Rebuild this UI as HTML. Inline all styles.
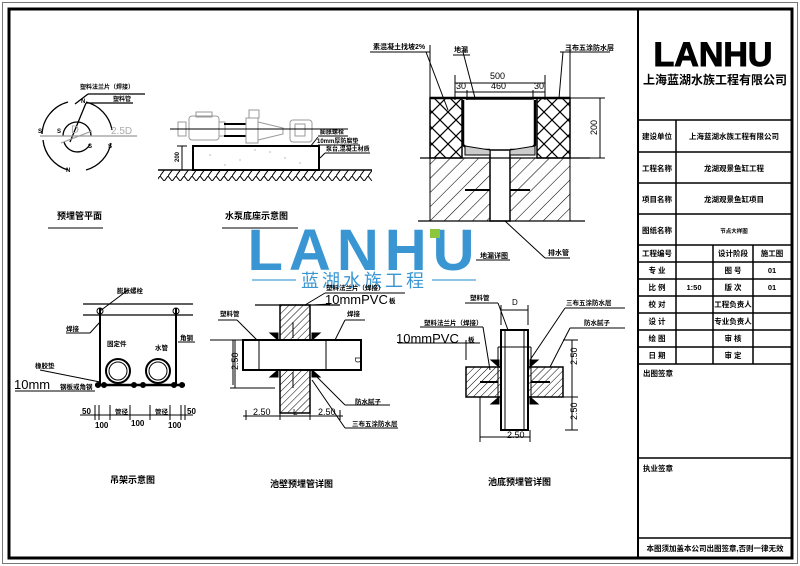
<!DOCTYPE html>
<html><head><meta charset="utf-8"><style>
html,body{margin:0;padding:0;background:#fff;}
svg{display:block;}
text{font-family:"Liberation Sans","Noto Sans CJK SC",sans-serif;font-weight:bold;fill:#000;}
</style></head><body>
<svg width="800" height="566" viewBox="0 0 800 566" xmlns="http://www.w3.org/2000/svg">
<defs>
<pattern id="xh" width="16" height="16" patternUnits="userSpaceOnUse">
<path d="M0 0L16 16M16 0L0 16" stroke="#000" stroke-width="1.2"/>
</pattern>
<pattern id="dg" width="10" height="10" patternUnits="userSpaceOnUse" patternTransform="rotate(45)">
<line x1="0" y1="0" x2="0" y2="10" stroke="#000" stroke-width="1.1"/>
</pattern>
<pattern id="dg2" width="5" height="5" patternUnits="userSpaceOnUse" patternTransform="rotate(45)">
<line x1="0" y1="0" x2="0" y2="5" stroke="#000" stroke-width="1"/>
</pattern>
<pattern id="gr" width="8" height="11" patternUnits="userSpaceOnUse">
<path d="M0 11L8 0M0 0L4 5" stroke="#000" stroke-width="1"/>
</pattern>
</defs>
<rect x="2.5" y="2.5" width="795" height="561" fill="none" stroke="#777" stroke-width="1"/>
<rect x="9" y="9" width="783" height="549" fill="none" stroke="#000" stroke-width="3"/>
<line x1="638" y1="9" x2="638" y2="558" stroke="#000" stroke-width="2"/>

<g stroke="#000" stroke-width="1.5" fill="none">
<line x1="638" y1="120" x2="792" y2="120"/>
<line x1="638" y1="152" x2="792" y2="152"/>
<line x1="638" y1="183" x2="792" y2="183"/>
<line x1="638" y1="214" x2="792" y2="214"/>
<line x1="638" y1="245" x2="792" y2="245"/>
<line x1="638" y1="262" x2="792" y2="262"/>
<line x1="638" y1="279" x2="792" y2="279"/>
<line x1="638" y1="296" x2="792" y2="296"/>
<line x1="638" y1="313" x2="792" y2="313"/>
<line x1="638" y1="330" x2="792" y2="330"/>
<line x1="638" y1="347" x2="792" y2="347"/>
<line x1="638" y1="364" x2="792" y2="364"/>
<line x1="638" y1="458" x2="792" y2="458"/>
<line x1="638" y1="538" x2="792" y2="538"/>
<line x1="676" y1="120" x2="676" y2="364"/>
<line x1="713" y1="245" x2="713" y2="364"/>
<line x1="753" y1="245" x2="753" y2="364"/>
</g>
<text x="713" y="66" font-size="34" text-anchor="middle" font-family="Liberation Sans" style="font-weight:900;stroke:#000;stroke-width:1">LANHU</text>
<text x="715" y="84" font-size="12" text-anchor="middle">上海蓝湖水族工程有限公司</text>
<g font-size="7.5">
<text x="657" y="139" text-anchor="middle">建设单位</text>
<text x="734" y="139" text-anchor="middle">上海蓝湖水族工程有限公司</text>
<text x="657" y="171" text-anchor="middle">工程名称</text>
<text x="734" y="171" text-anchor="middle">龙湖观景鱼缸工程</text>
<text x="657" y="202" text-anchor="middle">项目名称</text>
<text x="734" y="202" text-anchor="middle">龙湖观景鱼缸项目</text>
<text x="657" y="233" text-anchor="middle">图纸名称</text>
<text x="734" y="233" text-anchor="middle" font-size="5.5">节点大样图</text>
<text x="657" y="256" text-anchor="middle">工程编号</text>
<text x="733" y="256" text-anchor="middle">设计阶段</text>
<text x="772" y="256" text-anchor="middle">施工图</text>
<text x="657" y="273" text-anchor="middle">专  业</text>
<text x="733" y="273" text-anchor="middle">图  号</text>
<text x="772" y="273" text-anchor="middle">01</text>
<text x="657" y="290" text-anchor="middle">比  例</text>
<text x="694" y="290" text-anchor="middle">1:50</text>
<text x="733" y="290" text-anchor="middle">版  次</text>
<text x="772" y="290" text-anchor="middle">01</text>
<text x="657" y="307" text-anchor="middle">校  对</text>
<text x="733" y="307" text-anchor="middle">工程负责人</text>
<text x="657" y="324" text-anchor="middle">设  计</text>
<text x="733" y="324" text-anchor="middle">专业负责人</text>
<text x="657" y="341" text-anchor="middle">绘  图</text>
<text x="733" y="341" text-anchor="middle">审  核</text>
<text x="657" y="358" text-anchor="middle">日  期</text>
<text x="733" y="358" text-anchor="middle">审  定</text>
<text x="643" y="376">出图签章</text>
<text x="643" y="471">执业签章</text>
<text x="715" y="551" text-anchor="middle">本图须加盖本公司出图签章,否则一律无效</text>
</g>

<g stroke="#000" stroke-width="1.3" fill="none">
<path d="M42 134 A35 35 0 0 1 68 102"/>
<path d="M86 102 A35 35 0 0 1 112 130"/>
<path d="M111 143 A35 35 0 0 1 86 170"/>
<path d="M68 170 A35 35 0 0 1 43 140"/>
<path d="M63 136 A14 14 0 0 1 91 136"/>
<path d="M90 144 A14 14 0 0 1 64 142"/>
<line x1="75" y1="104" x2="88" y2="94"/><line x1="88" y1="94" x2="145" y2="94"/>
<line x1="70" y1="142" x2="86" y2="103"/><line x1="86" y1="103" x2="133" y2="103"/>
</g>
<line x1="40" y1="136" x2="137" y2="136" stroke="#999" stroke-width="1.2"/>
<line x1="61" y1="143" x2="92" y2="131" stroke="#999" stroke-width="1"/>
<text x="71" y="133" font-size="11" style="fill:#aaa;font-weight:normal">D</text>
<text x="111" y="134" font-size="10" style="fill:#aaa;font-weight:normal">2.5D</text>
<g font-size="6">
<text x="80" y="89">塑料法兰片（焊接）</text>
<text x="113" y="101">塑料管</text>
<text x="38" y="133">S</text><text x="57" y="133">S</text><text x="88" y="148">S</text><text x="108" y="148">S</text><text x="81" y="103">N</text><text x="66" y="172">N</text>
<text x="57" y="219" font-size="9">预埋管平面</text>
<text x="225" y="219" font-size="9">水泵底座示意图</text>
</g>
<line x1="48" y1="228" x2="103" y2="228" stroke="#000"/>
<line x1="222" y1="228" x2="298" y2="228" stroke="#000"/>

<g stroke="#000" fill="none" stroke-width="1">
<rect x="189" y="116" width="30" height="24" stroke="#999" rx="3"/>
<rect x="196" y="112" width="16" height="5" stroke="#999"/>
<rect x="178" y="122" width="8" height="14" stroke="#999"/>
<rect x="219" y="122" width="6" height="14" stroke="#999"/>
<line x1="224" y1="124" x2="246" y2="124" stroke-width="2"/>
<line x1="224" y1="136" x2="246" y2="136" stroke-width="2"/>
<rect x="246" y="118" width="12" height="25" stroke="#999"/>
<rect x="249" y="110" width="10" height="8" stroke="#999"/>
<path d="M258 122 L283 128 L283 134 L258 140" stroke="#999"/>
<rect x="290" y="120" width="22" height="22" stroke="#999" rx="3"/>
<rect x="295" y="124" width="10" height="12" stroke="#999"/>
<line x1="170" y1="129" x2="348" y2="129"/>
<rect x="193" y="146" width="126" height="24" stroke-width="2"/>
<line x1="158" y1="170" x2="372" y2="170" stroke-width="1.5"/>
<rect x="158" y="170" width="214" height="11" fill="url(#gr)" stroke="none"/>
<line x1="182" y1="146" x2="182" y2="170"/><line x1="177" y1="146" x2="187" y2="146"/>
<line x1="318" y1="136" x2="348" y2="136"/><line x1="310" y1="147" x2="318" y2="137"/>
<line x1="318" y1="145" x2="360" y2="145"/>
<line x1="320" y1="158" x2="325" y2="153"/><line x1="325" y1="153" x2="370" y2="153"/>
</g>
<g fill="#888"><circle cx="210" cy="155" r=".6"/><circle cx="240" cy="160" r=".6"/><circle cx="270" cy="152" r=".6"/><circle cx="300" cy="163" r=".6"/><circle cx="225" cy="165" r=".6"/><circle cx="285" cy="158" r=".6"/><circle cx="255" cy="150" r=".6"/></g>
<g font-size="6">
<text x="176" y="165" transform="rotate(-90 176 162)">200</text>
<text x="320" y="134">膨胀螺栓</text>
<text x="317" y="143">10mm厚防腐垫</text>
<text x="326" y="151">泵台,混凝土材质</text>
</g>

<g stroke="#000" fill="none">
<rect x="430" y="98" width="32" height="60" fill="url(#xh)" stroke-width="1.5"/>
<rect x="537" y="98" width="33" height="60" fill="url(#xh)" stroke-width="1.5"/>
<rect x="430" y="158" width="60" height="63" fill="url(#dg)"/>
<rect x="510" y="158" width="60" height="63" fill="url(#dg)"/>
<rect x="490" y="150" width="20" height="71" fill="#fff" stroke-width="1.5"/>
<path d="M463 100 L463 145 L470 150 L490 150 M510 150 L530 150 L535 145 L535 100" stroke-width="2.5" fill="none"/>
<path d="M465 146 L490 150 L490 155 L465 155Z M535 146 L510 150 L510 155 L535 155Z" fill="#ccc" stroke-width="1"/>
<line x1="430" y1="98" x2="570" y2="98" stroke-width="2.5"/>
<line x1="466" y1="99" x2="532" y2="99" stroke-width="1.5"/>
<line x1="420" y1="158" x2="590" y2="158" stroke-width="1.2"/>
<line x1="418" y1="221" x2="585" y2="221" stroke-width="1.2"/>
<line x1="600" y1="98" x2="600" y2="158"/><line x1="570" y1="98" x2="605" y2="98"/><line x1="570" y1="158" x2="605" y2="158"/>
<line x1="455" y1="83" x2="545" y2="83"/><line x1="455" y1="75" x2="455" y2="100"/><line x1="545" y1="75" x2="545" y2="100"/>
<line x1="467" y1="90" x2="467" y2="100"/><line x1="533" y1="90" x2="533" y2="100"/>
<line x1="455" y1="92" x2="545" y2="92"/>
<line x1="430" y1="45" x2="430" y2="98"/><line x1="570" y1="45" x2="570" y2="98"/>
<line x1="426" y1="52" x2="448" y2="110"/><line x1="463" y1="52" x2="475" y2="98"/>
<line x1="563" y1="52" x2="559" y2="98"/>
<line x1="370" y1="52" x2="430" y2="52"/><line x1="453" y1="55" x2="470" y2="55"/><line x1="560" y1="52" x2="610" y2="52"/>
<line x1="505" y1="221" x2="545" y2="258"/><line x1="545" y1="258" x2="570" y2="258"/>
<line x1="476" y1="260" x2="510" y2="260"/>
<line x1="465" y1="190" x2="490" y2="190" stroke-width="2"/><line x1="510" y1="190" x2="530" y2="190" stroke-width="2"/>
</g>
<g font-size="7">
<text x="373" y="49">素混凝土找坡2%</text>
<text x="454" y="52">地漏</text>
<text x="565" y="50">三布五涂防水层</text>
<text x="490" y="79" font-size="9" style="font-weight:normal">500</text>
<text x="456" y="89" font-size="9" style="font-weight:normal">30</text>
<text x="491" y="89" font-size="9" style="font-weight:normal">460</text>
<text x="534" y="89" font-size="9" style="font-weight:normal">30</text>
<text x="597" y="135" font-size="9" transform="rotate(-90 597 135)" style="font-weight:normal">200</text>
<text x="480" y="258">地漏详图</text>
<text x="548" y="255">排水管</text>
</g>

<text x="364" y="270" font-size="58" text-anchor="middle" font-family="Liberation Sans" style="fill:#3a96d2;font-weight:900;letter-spacing:6px">LANHU</text>
<rect x="430" y="229" width="10" height="9" fill="#8cc63f"/>
<line x1="252" y1="280" x2="296" y2="280" stroke="#6ab0dd" stroke-width="1.5"/>
<line x1="432" y1="280" x2="476" y2="280" stroke="#6ab0dd" stroke-width="1.5"/>
<text x="364" y="287" font-size="18" text-anchor="middle" style="fill:#3a96d2;font-weight:normal;letter-spacing:3px">蓝湖水族工程</text>

<g stroke="#000" fill="none">
<line x1="83" y1="304" x2="193" y2="304" stroke-width="1.2"/>
<line x1="83" y1="315" x2="193" y2="315" stroke-width="1.2"/>
<line x1="100" y1="308" x2="100" y2="385" stroke-width="2"/>
<line x1="176" y1="308" x2="176" y2="385" stroke-width="2"/>
<circle cx="100" cy="311" r="3"/><circle cx="176" cy="311" r="3"/>
<line x1="95" y1="385" x2="185" y2="385" stroke-width="2.5"/>
<circle cx="118" cy="371" r="12" stroke-width="2"/><circle cx="118" cy="371" r="9"/>
<circle cx="158" cy="371" r="12" stroke-width="2"/><circle cx="158" cy="371" r="9"/>
<circle cx="98" cy="385" r="2.5" fill="#000"/><circle cx="134" cy="385" r="2.5" fill="#000"/><circle cx="143" cy="385" r="2.5" fill="#000"/><circle cx="174" cy="385" r="2.5" fill="#000"/><circle cx="182" cy="385" r="2.5" fill="#000"/><circle cx="104" cy="385" r="2.5" fill="#000"/>
<line x1="100" y1="311" x2="128" y2="290"/><line x1="66" y1="333" x2="90" y2="333"/><line x1="90" y1="333" x2="100" y2="322"/>
<line x1="178" y1="342" x2="195" y2="342"/><line x1="40" y1="370" x2="100" y2="382"/>
<line x1="15" y1="391" x2="95" y2="391"/>
<line x1="80" y1="415" x2="193" y2="415"/>
<line x1="95" y1="405" x2="95" y2="420"/><line x1="99" y1="405" x2="99" y2="420"/><line x1="110" y1="405" x2="110" y2="420"/><line x1="130" y1="405" x2="130" y2="420"/><line x1="150" y1="405" x2="150" y2="420"/><line x1="170" y1="405" x2="170" y2="420"/><line x1="181" y1="405" x2="181" y2="420"/><line x1="185" y1="405" x2="185" y2="420"/>
<line x1="210" y1="340" x2="243" y2="340"/><line x1="235" y1="340" x2="235" y2="388"/><line x1="230" y1="388" x2="275" y2="388"/>
</g>
<g font-size="6.5">
<text x="117" y="293">膨胀螺栓</text>
<text x="66" y="331">焊接</text>
<text x="180" y="340">角钢</text>
<text x="107" y="346">固定件</text>
<text x="155" y="350">水管</text>
<text x="35" y="368">橡胶垫</text>
<text x="14" y="389" font-size="13" style="font-weight:normal">10mm</text>
<text x="60" y="389">钢板或角钢</text>
<text x="82" y="414" font-size="8">50</text>
<text x="115" y="414">管径</text><text x="155" y="414">管径</text>
<text x="187" y="414" font-size="8">50</text>
<text x="95" y="428" font-size="8">100</text><text x="131" y="426" font-size="8">100</text><text x="168" y="428" font-size="8">100</text>
<text x="110" y="483" font-size="9">吊架示意图</text>
</g>

<g stroke="#000" fill="none">
<line x1="255" y1="305" x2="340" y2="305" stroke-width="1.2"/>
<rect x="280" y="305" width="30" height="108" fill="url(#dg2)" stroke-width="1.5"/>
<rect x="243" y="340" width="118" height="30" fill="#fff" stroke-width="2"/>
<line x1="259" y1="340" x2="259" y2="370"/><line x1="326" y1="340" x2="326" y2="370"/>
<path d="M278 340 L270 333 L278 333Z M312 340 L320 333 L312 333Z M278 370 L270 377 L278 377Z M312 370 L320 377 L312 377Z" fill="#000"/>
<line x1="293" y1="322" x2="293" y2="338"/>
<line x1="293" y1="372" x2="293" y2="388"/>
<line x1="237" y1="320" x2="257" y2="340"/><line x1="218" y1="320" x2="237" y2="320"/>
<line x1="345" y1="320" x2="335" y2="340"/><line x1="345" y1="320" x2="365" y2="320"/>
<line x1="305" y1="305" x2="325" y2="293"/><line x1="325" y1="293" x2="405" y2="293"/>
<line x1="313" y1="305" x2="330" y2="304"/>
<line x1="235" y1="340" x2="240" y2="340"/><line x1="233" y1="340" x2="233" y2="385"/>
<line x1="315" y1="375" x2="345" y2="405"/><line x1="345" y1="405" x2="390" y2="405"/>
<line x1="312" y1="380" x2="345" y2="428"/><line x1="345" y1="428" x2="398" y2="428"/>
<line x1="243" y1="416" x2="343" y2="416"/>
<line x1="246" y1="410" x2="246" y2="420"/><line x1="280" y1="410" x2="280" y2="420"/><line x1="310" y1="410" x2="310" y2="420"/><line x1="340" y1="410" x2="340" y2="420"/>
</g>
<g font-size="6.5">
<text x="326" y="290">塑料法兰片（焊接）</text>
<text x="325" y="304" font-size="13" style="font-weight:normal">10mmPVC</text><text x="389" y="303">板</text>
<text x="220" y="316">塑料管</text>
<text x="347" y="316">焊接</text>
<text x="357" y="359" font-size="8" transform="rotate(90 357 357)" style="font-weight:normal">D</text>
<text x="238" y="370" font-size="9" transform="rotate(-90 238 370)" style="font-weight:normal">2.50</text>
<text x="355" y="404">防水腻子</text>
<text x="352" y="426">三布五涂防水层</text>
<text x="253" y="415" font-size="9" style="font-weight:normal">2.50</text>
<text x="293" y="415" font-size="8" style="font-weight:normal">L</text>
<text x="318" y="415" font-size="9" style="font-weight:normal">2.50</text>
<text x="270" y="487" font-size="9">池壁预埋管详图</text>
</g>
<line x1="398" y1="343" x2="480" y2="343" stroke="#000"/>

<g stroke="#000" fill="none">
<rect x="466" y="367" width="97" height="30" fill="url(#dg2)" stroke-width="1.5"/>
<rect x="501" y="330" width="27" height="100" fill="#fff" stroke-width="2"/>
<line x1="505" y1="330" x2="505" y2="430"/><line x1="524" y1="330" x2="524" y2="430"/>
<line x1="498" y1="347" x2="531" y2="347"/><line x1="498" y1="347" x2="498" y2="397"/><line x1="531" y1="347" x2="531" y2="397"/>
<path d="M499 367 L491 360 L499 360Z M530 367 L538 360 L530 360Z M499 397 L491 404 L499 404Z M530 397 L538 404 L530 404Z" fill="#000"/>
<line x1="480" y1="382" x2="498" y2="382" stroke-width="2"/><line x1="531" y1="382" x2="550" y2="382" stroke-width="2"/>
<line x1="501" y1="310" x2="528" y2="310"/><line x1="501" y1="305" x2="501" y2="325"/><line x1="528" y1="305" x2="528" y2="325"/>
<line x1="498" y1="303" x2="508" y2="330"/><line x1="465" y1="303" x2="498" y2="303"/>
<line x1="530" y1="360" x2="565" y2="308"/><line x1="565" y1="308" x2="625" y2="308"/>
<line x1="550" y1="367" x2="570" y2="328"/><line x1="570" y1="328" x2="625" y2="328"/>
<line x1="483" y1="327" x2="490" y2="370"/><line x1="420" y1="327" x2="483" y2="327"/>
<line x1="466" y1="340" x2="466" y2="360"/>
<line x1="572" y1="340" x2="572" y2="430"/><line x1="563" y1="340" x2="578" y2="340"/><line x1="563" y1="397" x2="578" y2="397"/><line x1="565" y1="430" x2="578" y2="430"/>
<line x1="480" y1="437" x2="530" y2="437"/><line x1="480" y1="397" x2="480" y2="442"/><line x1="530" y1="430" x2="530" y2="442"/>
</g>
<g font-size="6.5">
<text x="470" y="300">塑料管</text>
<text x="512" y="305" font-size="8" style="font-weight:normal">D</text>
<text x="566" y="305">三布五涂防水层</text>
<text x="584" y="325">防水腻子</text>
<text x="424" y="325">塑料法兰片（焊接）</text>
<text x="396" y="343" font-size="13" style="font-weight:normal">10mmPVC</text><text x="468" y="342">板</text>
<text x="577" y="365" font-size="9" transform="rotate(-90 577 365)" style="font-weight:normal">2.50</text>
<text x="577" y="420" font-size="9" transform="rotate(-90 577 420)" style="font-weight:normal">2.50</text>
<text x="507" y="438" font-size="9" style="font-weight:normal">2.50</text>
<text x="488" y="485" font-size="9">池底预埋管详图</text>
</g>
</svg>
</body></html>
